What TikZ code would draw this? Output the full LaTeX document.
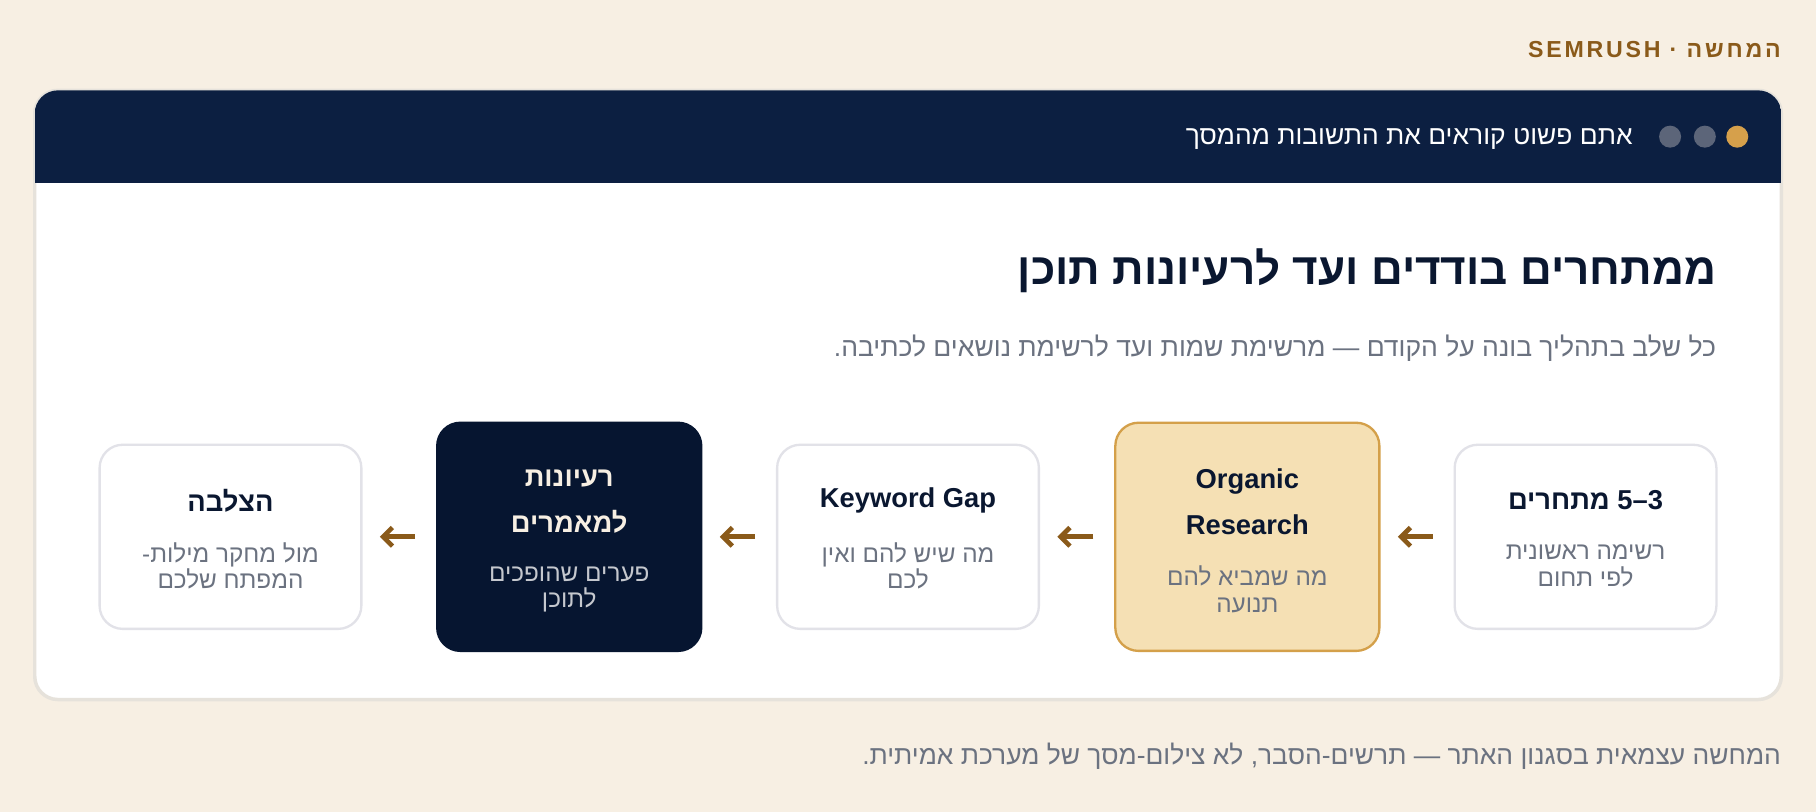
\documentclass[tikz,border=0pt]{standalone}
\usepackage{fontspec}
\setmainfont{Liberation Sans}[Script=Hebrew]
\newfontfamily\brandfont{Liberation Sans}[Script=Hebrew,LetterSpace=12]
\TeXXeTstate=1
\usetikzlibrary{arrows.meta}

\definecolor{pagecream}{HTML}{F7EFE3}
\definecolor{headnavy}{HTML}{0C1F41}
\definecolor{inknavy}{HTML}{0A1730}
\definecolor{darkstep}{HTML}{061530}
\definecolor{mutedgray}{HTML}{6B7280}
\definecolor{brandbrown}{HTML}{8A5A1A}
\definecolor{dotgold}{HTML}{D6A04B}
\definecolor{dotgray}{HTML}{5C6579}
\definecolor{stepline}{HTML}{E2E2E8}
\definecolor{goldfill}{HTML}{F5E0B4}
\definecolor{goldline}{HTML}{D4A04A}
\definecolor{cardline}{HTML}{E6E2DB}
\definecolor{palecream}{HTML}{F7EFE3}
\definecolor{palegray}{HTML}{C5C8CE}

\tikzset{
  stepbox/.style={rounded corners=10pt, inner sep=0pt, minimum width=113pt,
    minimum height=79.5pt, draw=stepline, line width=1pt, fill=white},
  tallbox/.style={stepbox, minimum width=114pt, minimum height=98.5pt},
  goldbox/.style={tallbox, draw=goldline, fill=goldfill},
  darkbox/.style={tallbox, draw=darkstep, fill=darkstep},
  steptitle/.style={inner sep=0pt, align=center, text=inknavy,
    font=\bfseries\fontsize{11.8}{20}\selectfont},
  stepnote/.style={inner sep=0pt, align=center, text=mutedgray,
    font=\fontsize{10.5}{11.5}\selectfont},
  flowarrow/.style={-{Straight Barb[length=4pt,width=8pt]}, brandbrown,
    line width=2pt, shorten <=9pt, shorten >=7.5pt},
  windot/.style={circle, inner sep=0pt, minimum size=9.5pt},
}

\begin{document}
\begin{tikzpicture}[x=0.5pt,y=-0.5pt]
    \fill[pagecream] (0,0) rectangle (1568,701);
    \useasboundingbox (0,0) rectangle (1568,701);

    \node[anchor=east, inner sep=0pt, text=brandbrown,
      font=\brandfont\bfseries\fontsize{10}{12}\selectfont] (brand) at (1538,43)
      {\beginR המחשה · \beginL SEMRUSH\endL\endR};

    % the card and its dark header
    \draw[cardline, line width=1.5pt, fill=white, rounded corners=10pt] (30,78) rectangle (1538,604);
    \begin{scope}
        \clip[rounded corners=10pt] (30,78) rectangle (1538,604);
        \fill[headnavy] (30,78) rectangle (1538,158);
    \end{scope}

    \node[windot, fill=dotgold] (dot1) at (1500,118) {};
    \node[windot, fill=dotgray] (dot2) at (1472,118) {};
    \node[windot, fill=dotgray] (dot3) at (1442,118) {};
    \node[anchor=east, inner sep=0pt, text=white, font=\fontsize{11.4}{14}\selectfont] (wintitle) at (1410,120)
      {\beginR אתם פשוט קוראים את התשובות מהמסך\endR};

    \node[anchor=east, inner sep=0pt, text=inknavy, font=\bfseries\fontsize{19}{23}\selectfont] (headline) at (1482,234)
      {\beginR ממתחרים בודדים ועד לרעיונות תוכן\endR};
    \node[anchor=east, inner sep=0pt, text=mutedgray, font=\fontsize{11.45}{13}\selectfont] (subline) at (1482,301)
      {\beginR כל שלב בתהליך בונה על הקודם — מרשימת שמות ועד לרשימת נושאים לכתיבה.\endR};

    % steps, right to left
    \node[stepbox] (s1) at (1369,463.5) {};
    \node[goldbox] (s2) at (1077,463.5) {};
    \node[stepbox] (s3) at (784,463.5) {};
    \node[darkbox] (s4) at (491.5,463.5) {};
    \node[stepbox] (s5) at (199,463.5) {};

    \node[steptitle] (s1t) at (1369,432)
      {\beginR\beginL\hbox{5}\hbox{–}\hbox{3}\endL{} מתחרים\endR};
    \node[stepnote] (s1n) at (1369,488.5) {\beginR רשימה ראשונית\endR\\\beginR לפי תחום\endR};
    \node[steptitle] (s2t) at (1077,433) {Organic\\Research};
    \node[stepnote] (s2n) at (1077,509) {\beginR מה שמביא להם\endR\\\beginR תנועה\endR};
    \node[steptitle] (s3t) at (784,432) {Keyword Gap};
    \node[stepnote] (s3n) at (784,488.5) {\beginR מה שיש להם ואין\endR\\\beginR לכם\endR};
    \node[steptitle, text=palecream] (s4t) at (491.5,433) {\beginR רעיונות\endR\\\beginR למאמרים\endR};
    \node[stepnote, text=palegray] (s4n) at (491.5,509) {\beginR פערים שהופכים\endR\\\beginR לתוכן\endR};
    \node[steptitle] (s5t) at (199,432) {\beginR הצלבה\endR};
    \node[stepnote] (s5n) at (199,488.5) {\beginR מול מחקר מילות-\endR\\\beginR המפתח שלכם\endR};

    \foreach \a/\b in {s1/s2, s2/s3, s3/s4, s4/s5}
    \draw[flowarrow] (\a) -- (\b);

    \node[anchor=east, inner sep=0pt, text=mutedgray, font=\fontsize{11.4}{13}\selectfont] (footnote) at (1538,653)
      {\beginR המחשה עצמאית בסגנון האתר — תרשים-הסבר, לא צילום-מסך של מערכת אמיתית.\endR};
\end{tikzpicture}
\end{document}
